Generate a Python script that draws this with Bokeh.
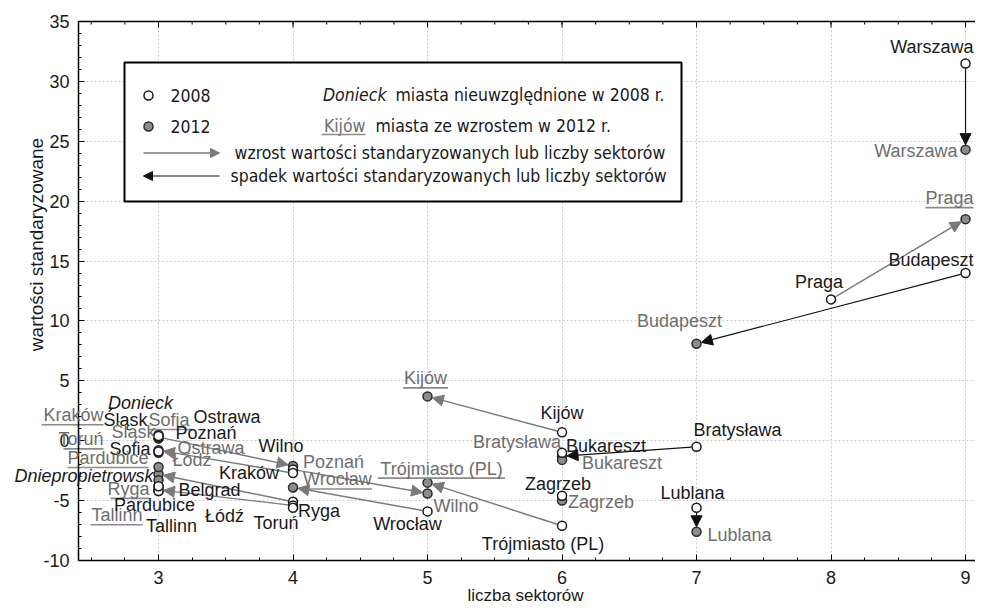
import math
import numpy as np
from bokeh.plotting import figure
from bokeh.models import (ColumnDataSource, Arrow, NormalHead, Range1d, LabelSet,
                          SingleIntervalTicker, Label, PrintfTickFormatter)
from bokeh.core.properties import value
from bokeh.embed import file_html
from bokeh.resources import INLINE

NAN = float("nan")

# ---------------- data ----------------
cities = ["Warszawa", "Praga", "Budapeszt", "Kijów", "Bratysława", "Bukareszt", "Zagrzeb",
          "Lublana", "Trójmiasto (PL)", "Wilno", "Wrocław", "Poznań", "Kraków", "Łódź",
          "Ryga", "Toruń", "Śląsk", "Sofia", "Ostrawa", "Pardubice", "Tallinn", "Belgrad",
          "Donieck", "Dniepropietrowsk"]
x2008 = [9, 8, 9, 6, 7, 6, 6, 7, 6, 4, 5, 3, 4, 4, 4, 4, 3, 3, 3, 3, 3, 3, NAN, NAN]
y2008 = [31.5, 11.8, 14.0, 0.7, -0.5, -1.0, -4.6, -5.6, -7.1, -2.4, -5.9, 0.3, -2.7, -5.1,
         -5.4, -5.6, 0.3, -0.9, 0.4, -4.2, -4.2, -3.8, NAN, NAN]
x2012 = [9, 9, 7, 5, 6, 6, 6, 7, 5, 5, 4, 4, 3, 3, 3, 3, 3, 3, 3, 3, 3, NAN, 3, 3]
y2012 = [24.3, 18.5, 8.1, 3.7, -1.3, -1.6, -5.0, -7.6, -3.5, -4.4, -3.9, -2.1, -0.8, -2.8,
         -4.1, 0.2, 0.2, 0.4, -1.0, -2.2, -3.8, NAN, 0.5, -3.3]
new_cities = ["Donieck", "Dniepropietrowsk"]
arrow_cities = ["Warszawa", "Praga", "Budapeszt", "Kijów", "Bratysława", "Lublana",
                "Trójmiasto (PL)", "Wilno", "Wrocław", "Poznań", "Kraków", "Łódź", "Ryga"]
x_ticks_interval = 1
y_ticks_interval = 5
legend_texts = ["2008", "2012", "Donieck", "miasta nieuwzględnione w 2008 r.", "Kijów",
                "miasta ze wzrostem w 2012 r.",
                "wzrost wartości standaryzowanych lub liczby sektorów",
                "spadek wartości standaryzowanych lub liczby sektorów"]
x_title = "liczba sektorów"
y_title = "wartości standaryzowane"

# ---------------- layout / style ----------------
W, H = 975, 604
AX_L, AX_T, AX_B = 78, 21, 560      # pixel positions of left axis, top line, bottom axis
XA = 2.405                          # x value at the left axis
YB, YT = -10, 35                    # y values at bottom axis / top line
SX = 134.5
SY = (AX_B - AX_T) / (YT - YB)
XR0 = XA - AX_L / SX
XR1 = XA + (W - AX_L) / SX
YR1 = YT + AX_T / SY
YR0 = YB - (H - AX_B) / SY
BLACK = "#1a1a1a"
GREY = "#6e6e6e"
ULGREY = "#8a8a8a"
FONT = "Liberation Sans"
LFONT = "DejaVu Sans Condensed"

def page_to_data(px, py):
    return XA + (px - AX_L) / SX, YT - (py - AX_T) / SY

# label placement: (city, year, dx px, dy px, align, underline width px)
LABELS = [
    ("Warszawa", 2008, 8, -16, "right", 0),
    ("Warszawa", 2012, -8, 1, "right", 0),
    ("Praga", 2012, 8, -21, "right", 48),
    ("Praga", 2008, -12, -17, "center", 0),
    ("Budapeszt", 2008, 8, -13, "right", 0),
    ("Budapeszt", 2012, -17, -23, "center", 0),
    ("Kijów", 2012, -2, -18, "center", 45),
    ("Kijów", 2008, 0, -19, "center", 0),
    ("Bratysława", 2008, -3, -17, "left", 0),
    ("Bratysława", 2012, -1, -14, "right", 0),
    ("Bukareszt", 2008, 4, -7, "left", 0),
    ("Bukareszt", 2012, 20, 3, "left", 0),
    ("Zagrzeb", 2008, -4, -12, "center", 0),
    ("Zagrzeb", 2012, 6, 1, "left", 0),
    ("Lublana", 2008, -4, -15, "center", 0),
    ("Lublana", 2012, 11, 3, "left", 0),
    ("Trójmiasto (PL)", 2008, -19, 18, "center", 0),
    ("Trójmiasto (PL)", 2012, 14, -14, "center", 127),
    ("Wilno", 2012, 6, 13, "left", 0),
    ("Wrocław", 2008, -20, 13, "center", 0),
    ("Wrocław", 2012, 10, -8, "left", 69),
    ("Poznań", 2012, 10, -4, "left", 0),
    ("Wilno", 2008, -12, -23, "center", 0),
    ("Kraków", 2008, -14, 0, "right", 0),
    ("Ryga", 2008, 5, 6, "left", 0),
    ("Łódź", 2008, -49, 14, "right", 0),
    ("Toruń", 2008, -17, 15, "center", 0),
    ("Donieck", 2012, -18, -32, "center", 0),
    ("Śląsk", 2008, -11, -17, "right", 0),
    ("Sofia", 2012, -10, -16, "left", 44),
    ("Ostrawa", 2008, 35, -19, "left", 0),
    ("Kraków", 2012, -55, -35, "right", 62),
    ("Toruń", 2012, -55, 1, "right", 40),
    ("Śląsk", 2012, -3, -6, "right", 0),
    ("Sofia", 2008, -8, -3, "right", 0),
    ("Poznań", 2008, 17, -4, "left", 0),
    ("Ostrawa", 2012, 19, -5, "left", 0),
    ("Pardubice", 2012, -10, -9, "right", 81),
    ("Łódź", 2012, 14, -14, "left", 0),
    ("Dniepropietrowsk", 2012, -5, -4, "right", 0),
    ("Ryga", 2012, -9, -1, "right", 39),
    ("Belgrad", 2008, 20, 4, "left", 0),
    ("Pardubice", 2008, -4, 14, "center", 0),
    ("Tallinn", 2012, -16, 29, "right", 52),
    ("Tallinn", 2008, 13, 35, "center", 0),
]

# ---------------- figure ----------------
p = figure(width=W, height=H, x_range=Range1d(XR0, XR1), y_range=Range1d(YR0, YR1),
           output_backend="svg", toolbar_location=None,
           min_border_left=0, min_border_right=0, min_border_top=0, min_border_bottom=0)
p.outline_line_color = None
p.background_fill_color = "white"
p.border_fill_color = "white"

xax = p.below[0]
yax = p.left[0]
xax.ticker = SingleIntervalTicker(interval=x_ticks_interval, num_minor_ticks=4)
yax.ticker = SingleIntervalTicker(interval=y_ticks_interval, num_minor_ticks=5)
xax.formatter = PrintfTickFormatter(format="%d")
yax.formatter = PrintfTickFormatter(format="%d")
xax.fixed_location = YB
yax.fixed_location = XA
xax.bounds = (XA, XR1)
yax.bounds = (YB, YT)
for ax in [xax, yax]:
    ax.major_tick_in = 6
    ax.major_tick_out = 0
    ax.minor_tick_in = 3
    ax.minor_tick_out = 0
    ax.axis_line_width = 1.5
    ax.axis_line_color = "black"
    ax.major_tick_line_color = "black"
    ax.minor_tick_line_color = "black"
    ax.major_label_text_font = FONT
    ax.major_label_text_color = BLACK
    ax.major_label_text_font_size = "18px"
yax.major_label_standoff = 9
xax.major_label_standoff = 10

p.xgrid[0].bounds = (XA, XR1)
p.xgrid[0].cross_bounds = (YB, YT)
p.ygrid[0].bounds = (YB, YT)
p.ygrid[0].cross_bounds = (XA, XR1)
for g in [p.xgrid[0], p.ygrid[0]]:
    g.grid_line_color = "#cccccc"
    g.grid_line_dash = "2 2"
    g.grid_line_width = 1

# top frame line with inward ticks
p.segment(x0=[XA], y0=[YT], x1=[XR1], y1=[YT], line_color="black", line_width=1.5)
maj = np.arange(math.ceil(XA), XR1, 1.0)
mnr = np.arange(math.ceil(XA * 4) / 4, XR1, 0.25)
p.segment(x0=list(maj), y0=[YT] * len(maj), x1=list(maj), y1=[YT - 6 / SY] * len(maj),
          line_color="black", line_width=1)
p.segment(x0=list(mnr), y0=[YT] * len(mnr), x1=list(mnr), y1=[YT - 3 / SY] * len(mnr),
          line_color="black", line_width=1)

# axis titles
tx, ty = page_to_data(36, 244)
p.add_layout(Label(x=tx, y=ty, text=y_title, angle=90, angle_units="deg",
                   text_align="center", text_baseline="middle",
                   text_font=FONT, text_font_size="19px", text_color=BLACK))
tx, ty = page_to_data(525, 595)
p.add_layout(Label(x=tx, y=ty, text=x_title, text_align="center", text_baseline="middle",
                   text_font=FONT, text_font_size="17px", text_color=BLACK))

# ---------------- arrows ----------------
def shorten(xs, ys, xe, ye, r0, r1):
    dxp = (xe - xs) * SX
    dyp = (ye - ys) * SY
    L = math.hypot(dxp, dyp)
    ux, uy = dxp / L, dyp / L
    return (xs + ux * r0 / SX, ys + uy * r0 / SY, xe - ux * r1 / SX, ye - uy * r1 / SY)

arr = {"grey": dict(xs=[], ys=[], xe=[], ye=[]), "black": dict(xs=[], ys=[], xe=[], ye=[])}
for c in arrow_cities:
    i = cities.index(c)
    xs, ys, xe, ye = shorten(x2008[i], y2008[i], x2012[i], y2012[i], 5, 5)
    key = "grey" if (y2012[i] > y2008[i] or x2012[i] > x2008[i]) else "black"
    for k, v in zip(["xs", "ys", "xe", "ye"], [xs, ys, xe, ye]):
        arr[key][k].append(v)

for key, col, lw in [("grey", "#7a7a7a", 1.4), ("black", "#111111", 1.2)]:
    src = ColumnDataSource(arr[key])
    p.add_layout(Arrow(end=NormalHead(size=11, fill_color=col, line_color=col, line_width=1),
                       x_start="xs", y_start="ys", x_end="xe", y_end="ye", source=src,
                       line_color=col, line_width=lw))

# ---------------- points ----------------
s08 = ColumnDataSource(dict(x=[x for x in x2008 if not math.isnan(x)],
                            y=[y for y in y2008 if not math.isnan(y)]))
s12 = ColumnDataSource(dict(x=[x for x in x2012 if not math.isnan(x)],
                            y=[y for y in y2012 if not math.isnan(y)]))
p.scatter("x", "y", source=s12, size=9, fill_color="#8c8c8c", line_color="#2a2a2a", line_width=1.5)
p.scatter("x", "y", source=s08, size=9, fill_color="white", line_color="#1a1a1a", line_width=1.5)

# ---------------- labels ----------------
groups = {}
ul = dict(x0=[], x1=[], y=[])
for city, yr, dx, dy, align, ulw in LABELS:
    i = cities.index(city)
    x = x2008[i] if yr == 2008 else x2012[i]
    y = y2008[i] if yr == 2008 else y2012[i]
    lx = x + dx / SX
    ly = y - dy / SY
    italic = city in new_cities
    color = BLACK if (yr == 2008 or italic) else GREY
    key = (align, color, italic)
    groups.setdefault(key, dict(x=[], y=[], t=[]))
    groups[key]["x"].append(lx)
    groups[key]["y"].append(ly)
    groups[key]["t"].append(city)
    if ulw:
        if align == "left":
            a, b = 0, ulw
        elif align == "right":
            a, b = -ulw, 0
        else:
            a, b = -ulw / 2, ulw / 2
        ul["x0"].append(lx + a / SX)
        ul["x1"].append(lx + b / SX)
        ul["y"].append(ly - 9.5 / SY)

for (align, color, italic), d in groups.items():
    p.add_layout(LabelSet(x="x", y="y", text="t", source=ColumnDataSource(d),
                          text_align=align, text_baseline="middle",
                          text_font=value(FONT), text_font_size=value("18px"),
                          text_color=value(color),
                          text_font_style=value("italic" if italic else "normal")))
p.segment("x0", "y", "x1", "y", source=ColumnDataSource(ul), line_color=ULGREY, line_width=1.6)

# ---------------- legend box ----------------
bx0, by0 = page_to_data(124, 62)
bx1, by1 = page_to_data(681, 201)
p.quad(left=[bx0], right=[bx1], top=[by0], bottom=[by1], fill_color="white",
       line_color="black", line_width=2)

def ltext(px, py, txt, align="left", color=BLACK, style="normal"):
    x, y = page_to_data(px, py)
    p.text([x], [y], [txt], text_align=align, text_baseline="middle", text_font=value(LFONT),
           text_font_size="17.5px", text_color=color, text_font_style=style)

cx, cy = page_to_data(148, 95)
p.scatter([cx], [cy], size=9, fill_color="white", line_color="#1a1a1a", line_width=1.5)
cx, cy = page_to_data(148, 126)
p.scatter([cx], [cy], size=9, fill_color="#8c8c8c", line_color="#2a2a2a", line_width=1.5)
ltext(170, 95, legend_texts[0])
ltext(170, 126, legend_texts[1])
ltext(386, 94, legend_texts[2], align="right", style="italic")
ltext(395, 94, legend_texts[3])
ltext(365, 125, legend_texts[4], align="right", color=GREY)
ux0, uy = page_to_data(321, 134)
ux1, _ = page_to_data(365, 134)
p.segment([ux0], [uy], [ux1], [uy], line_color=ULGREY, line_width=1.6)
ltext(375, 125, legend_texts[5])
ltext(234, 152, legend_texts[6])
ltext(230, 175, legend_texts[7])
ax0, ay0 = page_to_data(143, 152.5)
ax1, _ = page_to_data(219, 152.5)
p.add_layout(Arrow(end=NormalHead(size=9, fill_color="#7a7a7a", line_color="#7a7a7a"),
                   x_start=ax0, y_start=ay0, x_end=ax1, y_end=ay0,
                   line_color="#7a7a7a", line_width=1.4))
ax0, ay1 = page_to_data(219, 175.5)
ax1, _ = page_to_data(143, 175.5)
p.add_layout(Arrow(end=NormalHead(size=9, fill_color="#111111", line_color="#111111"),
                   x_start=ax0, y_start=ay1, x_end=ax1, y_end=ay1,
                   line_color="#111111", line_width=1.2))

open("out.html", "w").write(file_html(p, INLINE))
